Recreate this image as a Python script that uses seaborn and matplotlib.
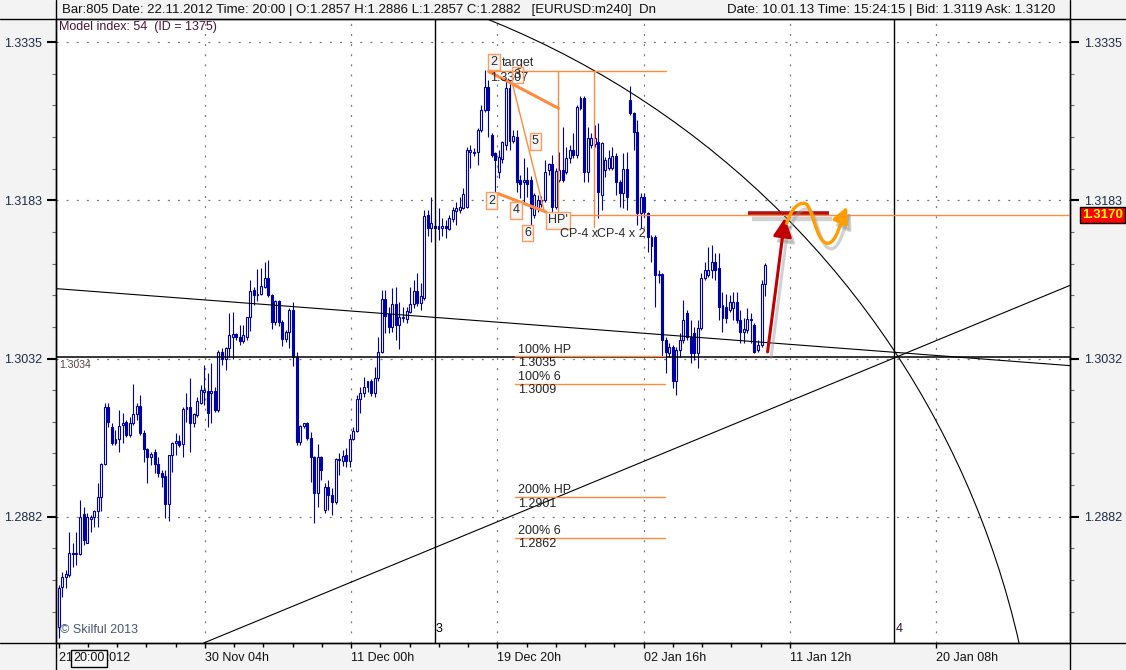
import numpy as np
import pandas as pd
import matplotlib
matplotlib.use("Agg")
import matplotlib.pyplot as plt
import matplotlib.transforms as mtransforms
from matplotlib.patches import Arc, FancyArrowPatch
from matplotlib.path import Path
from matplotlib.lines import Line2D
import seaborn as sns

# ---------------- data (EURUSD H4 candles) ----------------
opens = [1.2777, 1.2815, 1.2824, 1.2826, 1.2847, 1.2846, 1.2846, 1.2885, 1.2857, 1.2880,
         1.2882, 1.2887, 1.2901, 1.2932, 1.2987, 1.2968, 1.2952, 1.2956, 1.2970, 1.2972,
         1.2960, 1.2971, 1.2980, 1.2988, 1.2962, 1.2947, 1.2939, 1.2944, 1.2932, 1.2924,
         1.2921, 1.2894, 1.2941, 1.2952, 1.2954, 1.2951, 1.2985, 1.2987, 1.2971, 1.2979,
         1.2991, 1.3001, 1.3002, 1.3000, 1.3002, 1.2984, 1.3039, 1.3033, 1.3043, 1.3054,
         1.3056, 1.3054, 1.3050, 1.3054, 1.3073, 1.3098, 1.3094, 1.3095, 1.3101, 1.3110,
         1.3094, 1.3068, 1.3088, 1.3068, 1.3052, 1.3058, 1.3079, 1.3034, 1.2953, 1.2969,
         1.2971, 1.2957, 1.2939, 1.2905, 1.2939, 1.2888, 1.2910, 1.2903, 1.2896, 1.2936,
         1.2935, 1.2941, 1.2935, 1.2956, 1.2964, 1.2994, 1.3000, 1.3006, 1.3012, 1.3000,
         1.3014, 1.3039, 1.3090, 1.3075, 1.3063, 1.3085, 1.3065, 1.3072, 1.3071, 1.3077,
         1.3085, 1.3097, 1.3086, 1.3091, 1.3170, 1.3158, 1.3159, 1.3159, 1.3158, 1.3159,
         1.3157, 1.3166, 1.3174, 1.3175, 1.3177, 1.3178, 1.3230, 1.3229, 1.3230, 1.3251,
         1.3270, 1.3292, 1.3246, 1.3229, 1.3211, 1.3223, 1.3237, 1.3291, 1.3241, 1.3244,
         1.3203, 1.3201, 1.3203, 1.3203, 1.3170, 1.3177, 1.3180, 1.3184, 1.3213, 1.3219,
         1.3178, 1.3203, 1.3213, 1.3211, 1.3224, 1.3232, 1.3227, 1.3272, 1.3282, 1.3211,
         1.3237, 1.3238, 1.3240, 1.3189, 1.3213, 1.3215, 1.3215, 1.3226, 1.3201, 1.3191,
         1.3214, 1.3280, 1.3267, 1.3249, 1.3172, 1.3187, 1.3172, 1.3140, 1.3149, 1.3114,
         1.3114, 1.3051, 1.3038, 1.3044, 1.3012, 1.3041, 1.3051, 1.3076, 1.3054, 1.3057,
         1.3038, 1.3062, 1.3110, 1.3113, 1.3117, 1.3125, 1.3119, 1.3072, 1.3082, 1.3079,
         1.3081, 1.3087, 1.3070, 1.3058, 1.3060, 1.3070, 1.3065, 1.3041, 1.3046, 1.3104]
highs = [1.2817, 1.2829, 1.2831, 1.2867, 1.2857, 1.2867, 1.2898, 1.2891, 1.2886, 1.2884,
         1.2888, 1.2914, 1.2933, 1.2991, 1.2991, 1.2971, 1.2965, 1.2984, 1.2981, 1.2974,
         1.2977, 1.3009, 1.2991, 1.2998, 1.2965, 1.2948, 1.2944, 1.2947, 1.2939, 1.2927,
         1.2927, 1.2941, 1.2953, 1.2962, 1.2960, 1.2987, 1.3000, 1.3014, 1.2981, 1.2996,
         1.3008, 1.3027, 1.3019, 1.3029, 1.3006, 1.3041, 1.3043, 1.3044, 1.3076, 1.3077,
         1.3057, 1.3065, 1.3065, 1.3073, 1.3108, 1.3101, 1.3118, 1.3119, 1.3125, 1.3127,
         1.3095, 1.3089, 1.3089, 1.3070, 1.3060, 1.3081, 1.3087, 1.3039, 1.2970, 1.2971,
         1.2972, 1.2963, 1.2940, 1.2951, 1.2940, 1.2914, 1.2917, 1.2909, 1.2938, 1.2943,
         1.2946, 1.2948, 1.2961, 1.2968, 1.2998, 1.3006, 1.3015, 1.3012, 1.3013, 1.3025,
         1.3054, 1.3098, 1.3098, 1.3082, 1.3100, 1.3101, 1.3087, 1.3082, 1.3082, 1.3101,
         1.3108, 1.3115, 1.3105, 1.3175, 1.3175, 1.3187, 1.3167, 1.3177, 1.3167, 1.3165,
         1.3170, 1.3178, 1.3182, 1.3187, 1.3196, 1.3235, 1.3237, 1.3234, 1.3253, 1.3275,
         1.3308, 1.3299, 1.3248, 1.3230, 1.3232, 1.3241, 1.3299, 1.3299, 1.3251, 1.3251,
         1.3208, 1.3224, 1.3216, 1.3207, 1.3191, 1.3189, 1.3188, 1.3222, 1.3220, 1.3227,
         1.3215, 1.3230, 1.3254, 1.3235, 1.3237, 1.3248, 1.3275, 1.3284, 1.3284, 1.3254,
         1.3248, 1.3256, 1.3258, 1.3240, 1.3225, 1.3232, 1.3235, 1.3229, 1.3203, 1.3229,
         1.3230, 1.3293, 1.3268, 1.3261, 1.3191, 1.3191, 1.3173, 1.3151, 1.3151, 1.3117,
         1.3115, 1.3054, 1.3048, 1.3046, 1.3044, 1.3057, 1.3089, 1.3079, 1.3070, 1.3063,
         1.3070, 1.3115, 1.3125, 1.3139, 1.3141, 1.3134, 1.3134, 1.3096, 1.3095, 1.3094,
         1.3096, 1.3096, 1.3079, 1.3072, 1.3081, 1.3076, 1.3067, 1.3051, 1.3108, 1.3124]
lows = [1.2766, 1.2805, 1.2814, 1.2824, 1.2834, 1.2836, 1.2845, 1.2855, 1.2857, 1.2867,
        1.2872, 1.2872, 1.2887, 1.2931, 1.2968, 1.2950, 1.2950, 1.2944, 1.2952, 1.2958,
        1.2958, 1.2970, 1.2974, 1.2960, 1.2934, 1.2914, 1.2931, 1.2924, 1.2920, 1.2910,
        1.2881, 1.2878, 1.2925, 1.2941, 1.2949, 1.2939, 1.2972, 1.2944, 1.2968, 1.2977,
        1.2990, 1.2989, 1.2968, 1.2971, 1.2982, 1.2982, 1.3027, 1.3022, 1.3034, 1.3033,
        1.3051, 1.3046, 1.3048, 1.3051, 1.3059, 1.3084, 1.3088, 1.3094, 1.3100, 1.3092,
        1.3061, 1.3065, 1.3064, 1.3045, 1.3049, 1.3043, 1.3026, 1.2950, 1.2950, 1.2967,
        1.2955, 1.2915, 1.2876, 1.2891, 1.2917, 1.2886, 1.2888, 1.2884, 1.2894, 1.2922,
        1.2930, 1.2929, 1.2929, 1.2955, 1.2963, 1.2981, 1.2996, 1.3001, 1.2997, 1.2996,
        1.3012, 1.3038, 1.3057, 1.3057, 1.3058, 1.3051, 1.3042, 1.3068, 1.3067, 1.3076,
        1.3081, 1.3083, 1.3079, 1.3089, 1.3150, 1.3144, 1.3146, 1.3146, 1.3150, 1.3148,
        1.3156, 1.3163, 1.3160, 1.3172, 1.3176, 1.3177, 1.3215, 1.3226, 1.3218, 1.3249,
        1.3268, 1.3244, 1.3225, 1.3191, 1.3205, 1.3220, 1.3232, 1.3232, 1.3239, 1.3192,
        1.3186, 1.3181, 1.3187, 1.3158, 1.3167, 1.3173, 1.3178, 1.3182, 1.3208, 1.3173,
        1.3176, 1.3201, 1.3201, 1.3209, 1.3220, 1.3224, 1.3224, 1.3270, 1.3201, 1.3201,
        1.3234, 1.3235, 1.3167, 1.3175, 1.3206, 1.3213, 1.3213, 1.3189, 1.3178, 1.3177,
        1.3175, 1.3265, 1.3232, 1.3160, 1.3158, 1.3168, 1.3135, 1.3125, 1.3082, 1.3105,
        1.3034, 1.3019, 1.3034, 1.3005, 1.2998, 1.3034, 1.3048, 1.3051, 1.3029, 1.3032,
        1.3024, 1.3060, 1.3108, 1.3111, 1.3110, 1.3108, 1.3070, 1.3058, 1.3067, 1.3077,
        1.3070, 1.3067, 1.3048, 1.3048, 1.3057, 1.3048, 1.3038, 1.3039, 1.3044, 1.3093]
closes = [1.2814, 1.2824, 1.2827, 1.2847, 1.2846, 1.2847, 1.2882, 1.2860, 1.2882, 1.2882,
          1.2887, 1.2901, 1.2932, 1.2987, 1.2972, 1.2952, 1.2956, 1.2969, 1.2971, 1.2960,
          1.2971, 1.2980, 1.2988, 1.2962, 1.2947, 1.2939, 1.2942, 1.2932, 1.2924, 1.2920,
          1.2894, 1.2941, 1.2952, 1.2954, 1.2950, 1.2985, 1.2987, 1.2971, 1.2980, 1.2992,
          1.3003, 1.3003, 1.2981, 1.3002, 1.2984, 1.3039, 1.3033, 1.3043, 1.3055, 1.3056,
          1.3054, 1.3050, 1.3055, 1.3073, 1.3097, 1.3094, 1.3095, 1.3102, 1.3110, 1.3094,
          1.3068, 1.3088, 1.3068, 1.3052, 1.3058, 1.3079, 1.3034, 1.2953, 1.2969, 1.2971,
          1.2957, 1.2939, 1.2905, 1.2939, 1.2927, 1.2910, 1.2903, 1.2896, 1.2937, 1.2937,
          1.2940, 1.2935, 1.2956, 1.2964, 1.2994, 1.3000, 1.3006, 1.3012, 1.3000, 1.3014,
          1.3039, 1.3090, 1.3074, 1.3063, 1.3085, 1.3065, 1.3073, 1.3073, 1.3078, 1.3085,
          1.3097, 1.3086, 1.3093, 1.3169, 1.3158, 1.3162, 1.3158, 1.3157, 1.3159, 1.3158,
          1.3167, 1.3175, 1.3177, 1.3178, 1.3190, 1.3232, 1.3232, 1.3230, 1.3251, 1.3270,
          1.3292, 1.3270, 1.3227, 1.3222, 1.3225, 1.3240, 1.3291, 1.3241, 1.3245, 1.3201,
          1.3200, 1.3203, 1.3200, 1.3177, 1.3189, 1.3184, 1.3184, 1.3211, 1.3219, 1.3178,
          1.3212, 1.3213, 1.3203, 1.3224, 1.3232, 1.3227, 1.3273, 1.3282, 1.3211, 1.3243,
          1.3243, 1.3243, 1.3192, 1.3239, 1.3222, 1.3224, 1.3226, 1.3201, 1.3191, 1.3214,
          1.3187, 1.3267, 1.3249, 1.3172, 1.3187, 1.3173, 1.3149, 1.3149, 1.3113, 1.3113,
          1.3051, 1.3039, 1.3044, 1.3012, 1.3041, 1.3051, 1.3070, 1.3054, 1.3038, 1.3038,
          1.3062, 1.3110, 1.3117, 1.3117, 1.3125, 1.3117, 1.3082, 1.3084, 1.3072, 1.3087,
          1.3087, 1.3070, 1.3058, 1.3061, 1.3071, 1.3071, 1.3039, 1.3046, 1.3104, 1.3122]

# axis ticks (bar index / price) and labels
xtick_pos = [0, 41.2, 82.4, 123.6, 164.8, 206.0, 247.2]
xtick_labels = ["21 Nov 2012", "30 Nov 04h", "11 Dec 00h", "19 Dec 20h",
                "02 Jan 16h", "11 Jan 12h", "20 Jan 08h"]
ytick_labels = ["1.2882", "1.3032", "1.3183", "1.3335"]
ytick_pos = np.linspace(1.2882, 1.3335, 4)

# analysis overlays (bar index, price)
trend_down_x, trend_down_y = [-0.76, 284.9], [1.30997, 1.30262]
trend_up_x, trend_up_y = [40.8, 284.9], [1.27614, 1.31028]
circle_center, circle_rx, circle_ry = (28.08, 1.25758), 248.6, 0.08418
vlines_at = [105.9, 235.4]
vline_labels = ["3", "4"]
hline_black = 1.3034
target_level = 1.3307
current_level = 1.3170
fib_levels = [1.3035, 1.3009, 1.2901, 1.2862]
fib_names = ["100% HP", "100% 6", "200% HP", "200% 6"]

BLUE = "#0000a8"
ORANGE = "#ff8a3d"
W, H = 1126, 670

sns.set_style("white")
plt.rcParams["font.family"] = ["Liberation Sans", "DejaVu Sans"]

fig = plt.figure(figsize=(W / 100, H / 100), dpi=100, facecolor="#f3f3f3")
ax = fig.add_axes([56 / W, 1 - 643.3 / H, 1014 / W, 624.7 / H])
ax.set_facecolor("white")
XMIN, XMAX = -0.76, 284.9
ax.set_xlim(XMIN, XMAX)
ax.set_ylim(1.27614, 1.33574)

df = pd.DataFrame({"open": opens, "high": highs, "low": lows, "close": closes})
df["bar"] = np.arange(len(df))
up = df["close"] >= df["open"]
df["bottom"] = df[["open", "close"]].min(axis=1)
df["height"] = (df["close"] - df["open"]).abs()

# grid
for xv in xtick_pos[1:]:
    ax.axvline(xv, color="#7a7a7a", lw=0.9, ls=(0, (1.6, 6.5)), zorder=1)
for yv in ytick_pos:
    ax.axhline(yv, color="#7a7a7a", lw=0.9, ls=(0, (1.6, 6.5)), zorder=1)

# candles
ax.vlines(df["bar"], df["low"], df["high"], color=BLUE, lw=0.8, zorder=2)
ax.bar(df.loc[up, "bar"], df.loc[up, "height"], bottom=df.loc[up, "bottom"], width=0.55,
       facecolor="white", edgecolor=BLUE, linewidth=0.8, zorder=3)
ax.bar(df.loc[~up, "bar"], df.loc[~up, "height"], bottom=df.loc[~up, "bottom"], width=0.55,
       facecolor=BLUE, edgecolor=BLUE, linewidth=0.8, zorder=3)

# black structure lines
sns.lineplot(x=trend_down_x, y=trend_down_y, ax=ax, color="black", lw=0.8, estimator=None, sort=False, zorder=4)
sns.lineplot(x=trend_up_x, y=trend_up_y, ax=ax, color="black", lw=0.8, estimator=None, sort=False, zorder=4)
ax.add_patch(Arc(circle_center, 2 * circle_rx, 2 * circle_ry, theta1=0, theta2=90,
                 color="black", lw=0.8, zorder=4))
for xv, lab in zip(vlines_at, vline_labels):
    ax.axvline(xv, color="black", lw=1.0, zorder=4)
    ax.text(xv + 0.4, 1.2775, lab, fontsize=9, ha="left", va="center",
            color="black" if lab == "3" else "#3a0a40", zorder=6)
ax.axhline(hline_black, color="black", lw=1.1, zorder=4)
ax.annotate("1.3034", (0.1, hline_black), xytext=(0, -1.5), textcoords="offset points",
            fontsize=7.5, color="#5a4040", ha="left", va="top", zorder=6)

# orange harmonic pattern
ax.plot([121.0, 171.1], [target_level, target_level], color=ORANGE, lw=1.0, zorder=5)
ax.plot([140.7, 140.7], [target_level, current_level], color=ORANGE, lw=1.0, zorder=5)
ax.plot([150.9, 150.9], [target_level, 1.31589], color=ORANGE, lw=1.0, zorder=5)
ax.plot([121.1, 140.8], [target_level, 1.32718], color=ORANGE, lw=2.2, zorder=5)
ax.plot([127.7, 136.7], [1.32969, 1.31748], color=ORANGE, lw=1.0, zorder=5)
ax.plot([123.7, 137.3], [1.31905, 1.31729], color=ORANGE, lw=2.2, zorder=5)
ax.plot([137.5, XMAX], [current_level, current_level], color=ORANGE, lw=1.0, zorder=5)

for lvl, name in zip(fib_levels, fib_names):
    ax.plot([128.5, 170.8], [lvl, lvl], color=ORANGE, lw=1.0, zorder=5)
    ax.annotate(name, (129.4, lvl), xytext=(0, 0.5), textcoords="offset points",
                fontsize=9, color="#222222", ha="left", va="bottom", zorder=6)
    ax.annotate(f"{lvl:.4f}", (129.4, lvl), xytext=(0, -0.5), textcoords="offset points",
                fontsize=9, color="#222222", ha="left", va="top", zorder=6)


def box_label(x, y, s, fc="#f5f5f5"):
    ax.text(x, y, s, fontsize=9, color="#2a2a2a", ha="center", va="center", zorder=7,
            bbox=dict(boxstyle="square,pad=0.18", fc=fc, ec="#ff9a60", lw=1.0))


box_label(122.6, 1.33162, "2")
ax.text(124.9, 1.33150, "target", fontsize=9, color="#2a2a2a", ha="left", va="center", zorder=7)
ax.text(121.5, 1.33003, "1.3307", fontsize=9, color="#2a2a2a", ha="left", va="center", zorder=7)
box_label(129.2, 1.33036, "3", fc="none")
box_label(134.3, 1.32403, "5")
box_label(121.9, 1.31836, "2")
box_label(128.8, 1.31743, "4")
box_label(132.1, 1.31526, "6")
box_label(140.7, 1.31648, "HP'")
ax.text(141.1, 1.31519, "CP-4 x", fontsize=9, color="#2a2a2a", ha="left", va="center", zorder=7)
ax.text(151.6, 1.31519, "CP-4 x 2", fontsize=9, color="#2a2a2a", ha="left", va="center", zorder=7)

# hand-drawn projection (red bar, red arrow, orange wave) with soft shadows
shadow = ax.transData + mtransforms.ScaledTranslation(0.035, -0.055, fig.dpi_scale_trans)
ax.plot([194.2, 217.0], [1.31715, 1.31715], color="#9a9a9a", lw=3.2, alpha=0.45,
        transform=shadow, solid_capstyle="butt", zorder=7)
ax.plot([194.2, 217.0], [1.31715, 1.31715], color="#b31212", lw=2.6,
        solid_capstyle="butt", zorder=8)

for tr, col, al in [(shadow, "#9a9a9a", 0.45), (ax.transData, "#c00000", 1.0)]:
    ax.add_patch(FancyArrowPatch((199.7, 1.30393), (204.6, 1.31672),
                                 arrowstyle="-|>,head_length=0.8,head_width=0.4",
                                 mutation_scale=14, color=col, alpha=al, lw=2.2,
                                 shrinkA=0, shrinkB=0, transform=tr, zorder=8))

wave_verts = [(205.1, 1.3162),
              (206.4, 1.3176), (208.3, 1.3182), (210.2, 1.3181),
              (212.4, 1.3180), (213.3, 1.3143), (216.6, 1.3143),
              (219.2, 1.3143), (220.4, 1.3165), (222.1, 1.3178)]
wave_codes = [Path.MOVETO] + [Path.CURVE4] * 9
for tr, col, al in [(shadow, "#9a9a9a", 0.45), (ax.transData, "#ff9c00", 1.0)]:
    ax.add_patch(FancyArrowPatch(path=Path(wave_verts, wave_codes),
                                 arrowstyle="-|>,head_length=0.8,head_width=0.4",
                                 mutation_scale=12, color=col, alpha=al, lw=2.4,
                                 transform=tr, zorder=8))

# overlay texts
ax.text(0.003, 0.9866, "Model index: 54  (ID = 1375)", transform=ax.transAxes,
        fontsize=9, color="#4a1535", ha="left", va="center", zorder=7)
ax.text(0.004, 0.0219, "\u00a9 Skilful 2013", transform=ax.transAxes,
        fontsize=9, color="#4a5670", ha="left", va="center", zorder=7)

blend = mtransforms.blended_transform_factory(ax.transAxes, ax.transData)
ax.text(1.0123, current_level, "1.3170", transform=blend, fontsize=9.5, fontweight="bold",
        color="#ffff00", ha="left", va="center", clip_on=False, zorder=9,
        bbox=dict(boxstyle="square,pad=0.15", fc="#ff0000", ec="black", lw=1.0))

# ticks
ax.set_xticks(xtick_pos, xtick_labels)
ax.set_xticks(np.arange(0, 206.1, 8.24), minor=True)
ax.set_yticks(ytick_pos, ytick_labels)
ax.set_yticks(np.arange(1.2882 - 4 * 0.00302, 1.3336, 0.00302), minor=True)
for lab in ax.get_xticklabels():
    lab.set_horizontalalignment("left")
ax.tick_params(axis="x", which="major", bottom=True, direction="out", length=3.6, width=1,
               color="black", labelsize=9, labelcolor="#111111", pad=2.5)
ax.tick_params(axis="x", which="minor", bottom=True, direction="out", length=2.6, width=1,
               color="black")
ax.tick_params(axis="y", which="major", left=True, right=True, labelleft=True, labelright=True,
               direction="out", length=6.5, width=1.5, color="black", labelsize=9,
               labelcolor="#1c2b46", pad=3.5)
ax.tick_params(axis="y", which="minor", left=True, right=True, direction="out",
               length=2.9, width=0.8, color="#707070")
for s in ax.spines.values():
    s.set_color("black")
    s.set_linewidth(1.0)

# header and frame lines of the terminal window
fig.text(62 / W, 1 - 9.5 / H,
         "Bar:805 Date: 22.11.2012 Time: 20:00 | O:1.2857 H:1.2886 L:1.2857 C:1.2882   [EURUSD:m240]  Dn",
         fontsize=9.5, color="#111111", ha="left", va="center")
fig.text(727 / W, 1 - 9.5 / H,
         "Date: 10.01.13 Time: 15:24:15 | Bid: 1.3119 Ask: 1.3120",
         fontsize=9.5, color="#111111", ha="left", va="center")
for yy in (1 - 18.6 / H, 1 - 643.3 / H):
    fig.add_artist(Line2D([0, 1], [yy, yy], color="black", lw=1.0, transform=fig.transFigure))
for xx in (56 / W, 1070 / W):
    fig.add_artist(Line2D([xx, xx], [0, 1], color="black", lw=1.0, transform=fig.transFigure))

xfig = mtransforms.blended_transform_factory(ax.transData, fig.transFigure)
ax.text(8.5, 1 - 658 / H, "20:00", transform=xfig, fontsize=9, color="#111111",
        ha="center", va="center", clip_on=False, zorder=10,
        bbox=dict(boxstyle="square,pad=0.2", fc="#f8f8f8", ec="black", lw=1.0))

fig.savefig("out.png", dpi=100, facecolor=fig.get_facecolor())
